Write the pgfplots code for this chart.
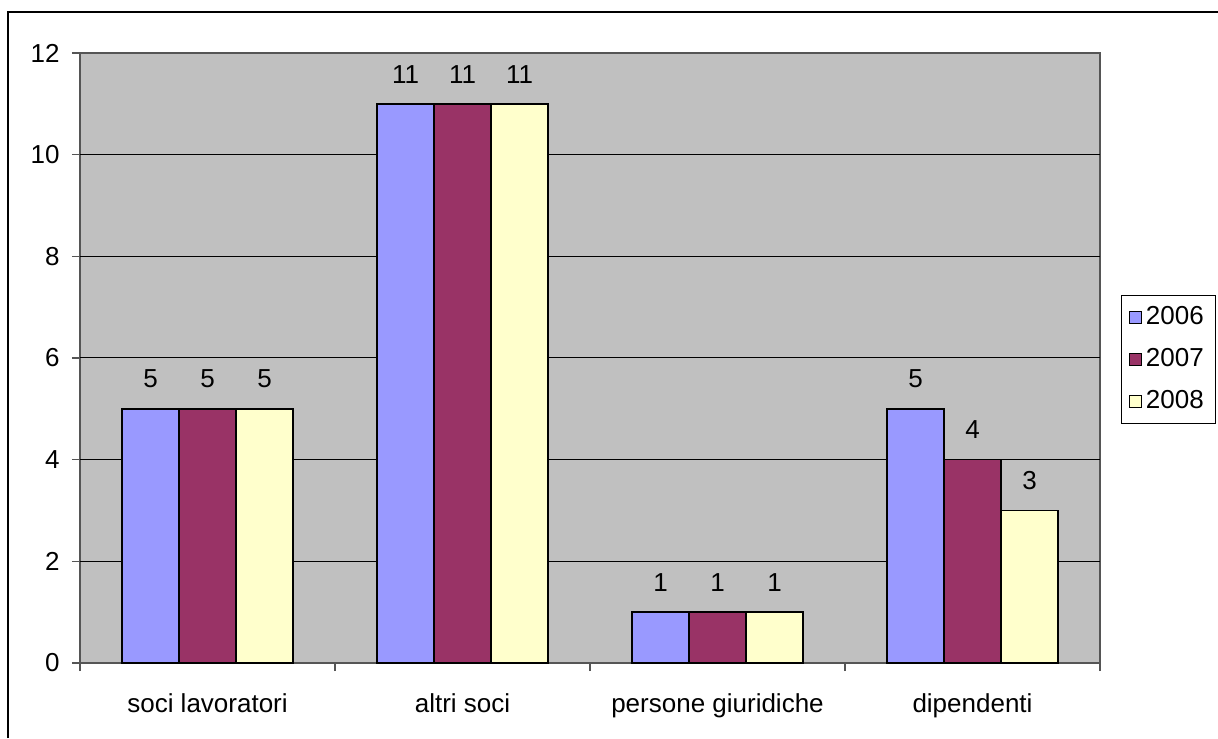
\documentclass[border=0pt]{standalone}
\usepackage{pgfplots}
\pgfplotsset{compat=1.18}
\usepackage{fontspec}
\setmainfont{Liberation Sans}
\definecolor{c2006}{HTML}{9999FF}
\definecolor{c2007}{HTML}{993366}
\definecolor{c2008}{HTML}{FFFFCC}
\definecolor{plotbg}{HTML}{C0C0C0}
\definecolor{axisgray}{HTML}{555555}
\newcommand{\chartfont}{\fontsize{13}{15.6}\selectfont}
\begin{document}
\chartfont
\begin{tikzpicture}
  \path[use as bounding box] (0,0) rectangle (609pt,369pt);
  % outer chart frame (right and bottom edges fall outside the image)
  \draw[line width=1pt] (4pt,0) -- (4pt,363pt) -- (609pt,363pt);
  \begin{axis}[
    at={(40pt,37.5pt)}, anchor=south west,
    scale only axis,
    width=510pt, height=305pt,
    ybar=0pt,
    bar width=28.5pt,
    xmin=-0.5, xmax=3.5,
    ymin=0, ymax=12,
    ytick={0,2,...,12},
    xtick={0,1,2,3},
    xticklabels={soci lavoratori, altri soci, persone giuridiche, dipendenti},
    xtick style={draw=none},
    extra x ticks={-0.5,0.5,1.5,2.5,3.5},
    extra x tick labels={},
    extra x tick style={xtick style={draw=axisgray, line width=0.8pt}},
    extra y ticks={2,4,6,8,10},
    extra y tick labels={},
    extra y tick style={ymajorgrids=true, major tick length=0pt},
    major grid style={black, line width=0.5pt},
    tick align=outside,
    tick pos=left,
    major tick length=4pt,
    ytick style={draw=axisgray, line width=0.8pt},
    axis line style={draw=axisgray, line width=1pt},
    axis background/.style={fill=plotbg},
    tick label style={font=\chartfont},
    /pgf/number format/assume math mode=true,
    yticklabel style={inner sep=0pt, xshift=-6pt},
    xticklabel style={inner sep=0pt, yshift=-11pt},
    every axis plot/.append style={draw=black, line width=0.8pt},
    nodes near coords,
    every node near coord/.append style={inner sep=0pt, yshift=10pt, black,
      font=\chartfont},
    legend style={at={(1.0206,0.6033)}, anchor=north west,
      draw=black, line width=0.5pt, fill=white,
      font=\chartfont,
      inner xsep=3.8pt, inner ysep=3.5pt, row sep=6pt},
    legend cell align=left,
    legend image code/.code={%
      \draw[#1, draw=black, line width=0.6pt] (0pt,-2.9pt) rectangle (5.8pt,2.9pt);},
  ]
    \addplot[fill=c2006] coordinates {(0,5) (1,11) (2,1) (3,5)};
    \addlegendentry{2006}
    \addplot[fill=c2007] coordinates {(0,5) (1,11) (2,1) (3,4)};
    \addlegendentry{2007}
    \addplot[fill=c2008] coordinates {(0,5) (1,11) (2,1) (3,3)};
    \addlegendentry{2008}
  \end{axis}
\end{tikzpicture}
\end{document}
